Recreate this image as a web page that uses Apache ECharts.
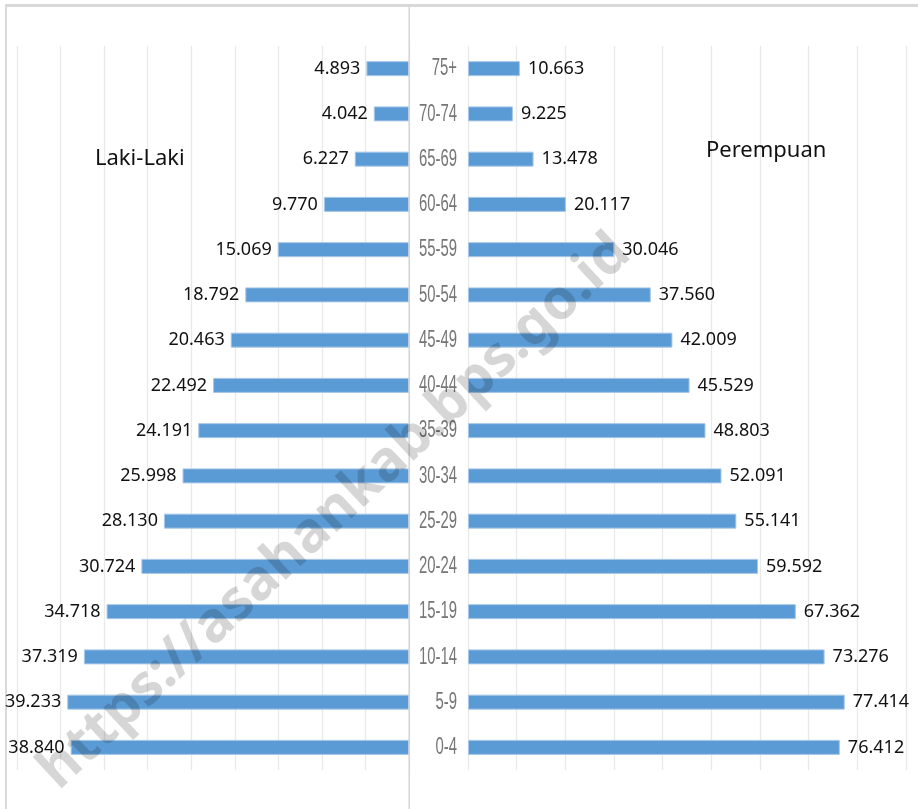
<!DOCTYPE html>
<html>
<head>
<meta charset="utf-8">
<script src="https://cdn.jsdelivr.net/npm/echarts@6/dist/echarts.min.js"></script>
<style>
html,body{margin:0;padding:0;background:#fff;}
#chart{width:918px;height:809px;}
</style>
</head>
<body>
<div id="chart"></div>
<script>
// Age groups, bottom to top
const ageGroups = ['0-4','5-9','10-14','15-19','20-24','25-29','30-34','35-39','40-44','45-49','50-54','55-59','60-64','65-69','70-74','75+'];
// Laki-Laki (male)
const maleValues = [38840, 39233, 37319, 34718, 30724, 28130, 25998, 24191, 22492, 20463, 18792, 15069, 9770, 6227, 4042, 4893];
// Perempuan (female)
const femaleValues = [76412, 77414, 73276, 67362, 59592, 55141, 52091, 48803, 45529, 42009, 37560, 30046, 20117, 13478, 9225, 10663];
const maleLabel = 'Laki-Laki';
const femaleLabel = 'Perempuan';
const watermark = 'https://asahankab.bps.go.id';

function fmt(v){
  const th = Math.floor(v/1000), r = v % 1000;
  return th + '.' + String(r).padStart(3,'0');
}

const chart = echarts.init(document.getElementById('chart'), null, {renderer:'canvas'});
const gridLine = {show:true, lineStyle:{color:'#e9e9e9', width:1.3}};
const labelFont = {fontFamily:'"Noto Sans", sans-serif', fontSize:18, color:'#111'};
const barStyle = {color:'#5b9bd5', borderColor:'#a7c7e8', borderWidth:1};

const baseGraphic = [
  {type:'rect', shape:{x:5, y:4, width:913, height:3}, style:{fill:'#d9d9d9'}, silent:true},
  {type:'rect', shape:{x:5, y:4, width:2, height:805}, style:{fill:'#d9d9d9'}, silent:true},
  {type:'rect', shape:{x:408.5, y:4, width:1.5, height:805}, style:{fill:'#d4d4d4'}, silent:true, z:10},
  {type:'text', left:95, top:148, style:{text:maleLabel, fontFamily:'"Noto Sans", sans-serif', fontSize:22, fill:'#111'}},
  {type:'text', left:706, top:140, style:{text:femaleLabel, fontFamily:'"Noto Sans", sans-serif', fontSize:22, fill:'#111'}},
  {type:'text', x:335, y:512, rotation:0.75, z:100, silent:true,
   style:{text:watermark, fontFamily:'"Noto Sans", sans-serif', fontWeight:'bold', fontSize:56,
     fill:'rgba(0,0,0,0.16)', align:'center', verticalAlign:'middle'}}
];

chart.setOption({
  animation:false,
  backgroundColor:'#fff',
  grid:[
    {left:17, right:509, top:46, bottom:39},
    {left:468, right:12, top:46, bottom:39}
  ],
  xAxis:[
    {gridIndex:0, type:'value', inverse:true, min:0, max:45000, interval:5000,
     axisLabel:{show:false}, axisLine:{show:false}, axisTick:{show:false}, splitLine:gridLine},
    {gridIndex:1, type:'value', min:0, max:90000, interval:10000,
     axisLabel:{show:false}, axisLine:{show:false}, axisTick:{show:false}, splitLine:gridLine}
  ],
  yAxis:[
    {gridIndex:0, type:'category', data:ageGroups, axisLabel:{show:false},
     axisLine:{show:false}, axisTick:{show:false}},
    {gridIndex:1, type:'category', data:ageGroups, position:'left',
     axisLine:{show:false}, axisTick:{show:false}, axisLabel:{show:false}}
  ],
  series:[
    {type:'bar', name:maleLabel, xAxisIndex:0, yAxisIndex:0, data:maleValues, barWidth:15,
     itemStyle:barStyle,
     label:Object.assign({show:true, position:'left', distance:6, formatter:p=>fmt(p.value)}, labelFont)},
    {type:'bar', name:femaleLabel, xAxisIndex:1, yAxisIndex:1, data:femaleValues, barWidth:15,
     itemStyle:barStyle,
     label:Object.assign({show:true, position:'right', distance:8, formatter:p=>fmt(p.value)}, labelFont)}
  ],
  graphic:baseGraphic
});

// Narrow category tick labels placed with the category axis scale
const catLabels = ageGroups.map(function(cat){
  const py = chart.convertToPixel({yAxisIndex:1}, cat);
  return {type:'text', x:457, y:py, scaleX:0.62, silent:true, z:20,
    style:{text:cat, fontFamily:'"Liberation Sans", Arial, sans-serif', fontSize:24,
      fill:'#767676', align:'right', verticalAlign:'middle'}};
});
chart.setOption({graphic: baseGraphic.concat(catLabels)}, {replaceMerge:['graphic']});
</script>
</body>
</html>
